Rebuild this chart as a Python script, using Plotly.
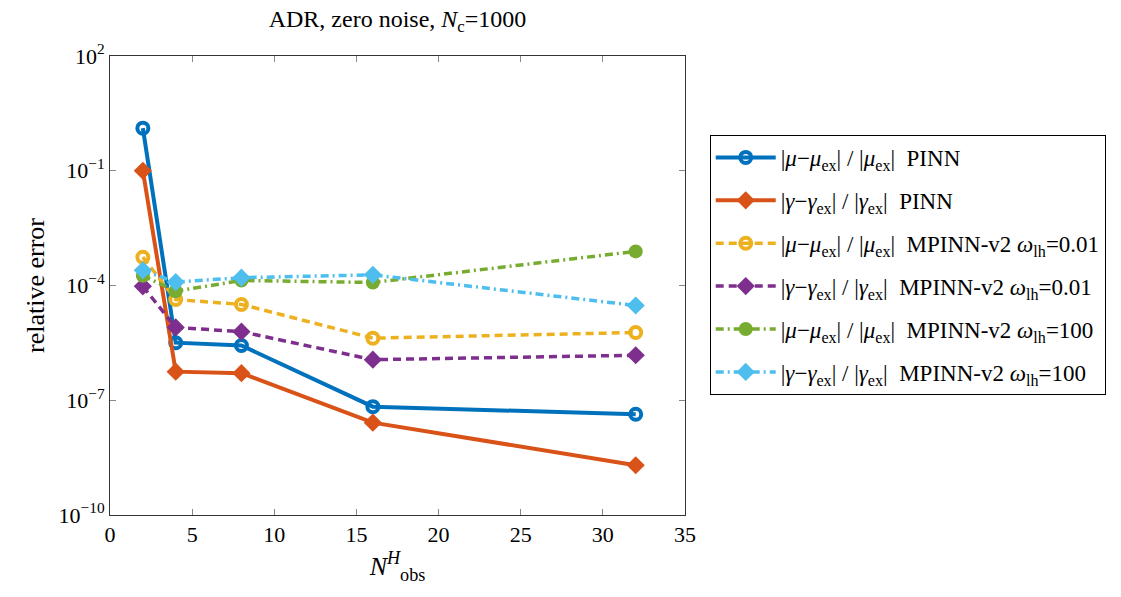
import plotly.graph_objects as go

x_obs = [2, 4, 8, 16, 32]
pinn_mu = [1.3, 3.2e-6, 2.7e-6, 6.8e-8, 4.3e-8]
pinn_gamma = [0.1, 5.6e-7, 5.1e-7, 2.6e-8, 2.0e-9]
mp001_mu = [5.5e-4, 4.3e-5, 3.2e-5, 4.2e-6, 5.9e-6]
mp001_gamma = [9.5e-5, 8.0e-6, 6.2e-6, 1.15e-6, 1.5e-6]
mp100_mu = [1.8e-4, 7.1e-5, 1.35e-4, 1.2e-4, 7.8e-4]
mp100_gamma = [2.5e-4, 1.23e-4, 1.6e-4, 1.9e-4, 3.0e-5]

mu_frac = "|<i>μ</i>−<i>μ</i><sub>ex</sub>| / |<i>μ</i><sub>ex</sub>|"
ga_frac = "|<i>γ</i>−<i>γ</i><sub>ex</sub>| / |<i>γ</i><sub>ex</sub>|"
labels = [
    mu_frac + "  PINN",
    ga_frac + "  PINN",
    mu_frac + "  MPINN-v2 <i>ω</i><sub>lh</sub>=0.01",
    ga_frac + "  MPINN-v2 <i>ω</i><sub>lh</sub>=0.01",
    mu_frac + "  MPINN-v2 <i>ω</i><sub>lh</sub>=100",
    ga_frac + "  MPINN-v2 <i>ω</i><sub>lh</sub>=100",
]
series = [pinn_mu, pinn_gamma, mp001_mu, mp001_gamma, mp100_mu, mp100_gamma]
colors = ["#0072BD", "#D95319", "#EDB120", "#7E2F8E", "#77AC30", "#4DBEEE"]
dashes = ["solid", "solid", "8px,5px", "8px,5px", "8px,4px,2px,4px", "8px,4px,2px,4px"]
widths = [4, 4, 3.5, 3.5, 3.5, 3.5]
symbols = ["circle-open", "diamond", "circle-open", "diamond", "circle", "diamond"]

fig = go.Figure()
for i in range(6):
    sym = symbols[i]
    if sym == "diamond":
        size = 14
    elif sym == "circle":
        size = 14
    else:
        size = 11
    marker = dict(symbol=sym, size=size, color=colors[i])
    if sym == "circle-open":
        marker["line"] = dict(width=4, color=colors[i])
    else:
        marker["line"] = dict(width=0)
    fig.add_trace(go.Scatter(
        x=x_obs, y=series[i], mode="lines+markers", name=labels[i],
        legendgroup=f"g{i}",
        line=dict(color=colors[i], width=widths[i], dash=dashes[i]),
        marker=marker,
    ))

font_family = "Liberation Serif, DejaVu Serif, serif"
tick_vals = [1e2, 1e-1, 1e-4, 1e-7, 1e-10]
tick_text = ["10<sup>2</sup>", "10<sup>−1</sup>", "10<sup>−4</sup>", "10<sup>−7</sup>", "10<sup>−10</sup>"]

fig.update_layout(
    width=1121, height=597,
    margin=dict(l=110, r=436, t=56, b=82),
    paper_bgcolor="white", plot_bgcolor="white",
    font=dict(family=font_family, size=22, color="black"),
    title=dict(text="ADR, zero noise, <i>N</i><sub>c</sub>=1000", x=(110 + 685) / 2 / 1121,
               xanchor="center", y=1 - 19 / 597, yanchor="middle", font=dict(size=24)),
    showlegend=True,
    legend=dict(x=1.043, y=0.828, xanchor="left", yanchor="top",
                bordercolor="black", borderwidth=1, bgcolor="white",
                font=dict(size=23), tracegroupgap=10, itemwidth=60),
    xaxis=dict(range=[0, 35], tickvals=[0, 5, 10, 15, 20, 25, 30, 35],
               ticks="inside", ticklen=6, tickcolor="#888", showgrid=False, zeroline=False,
               showline=True, linecolor="#333", linewidth=1, mirror="ticks",
               title=dict(text="<i>N</i><sup><i>H</i></sup><sub>obs</sub>", standoff=10)),
    yaxis=dict(type="log", range=[-10, 2], tickvals=tick_vals, ticktext=tick_text,
               ticks="inside", ticklen=6, tickcolor="#888", showgrid=False, zeroline=False,
               showline=True, linecolor="#333", linewidth=1, mirror="ticks",
               title=dict(text="relative error", standoff=6)),
)

fig.write_html("out.html")
